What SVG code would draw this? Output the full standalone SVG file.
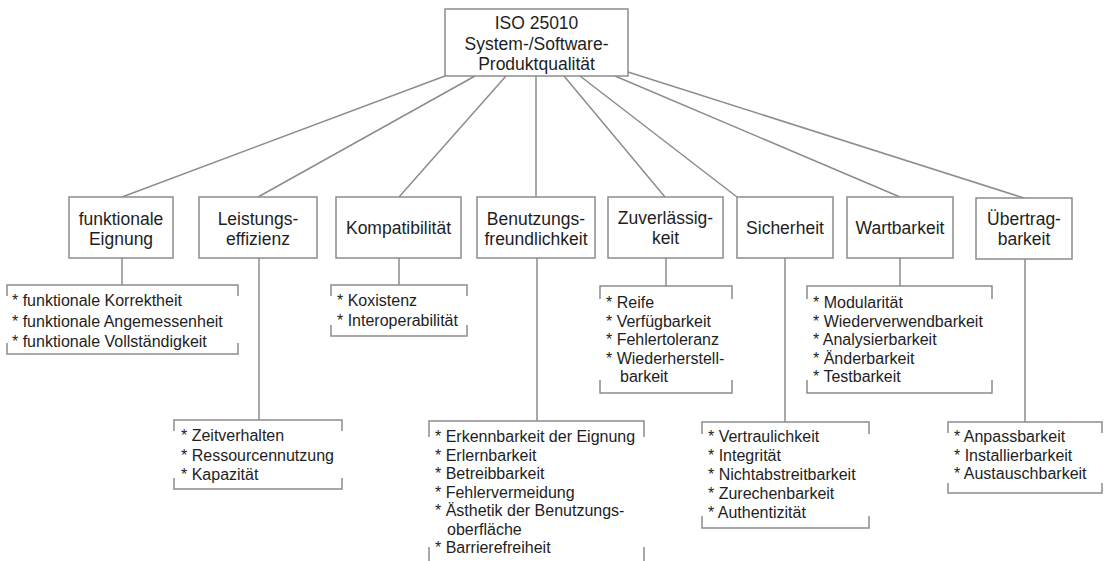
<svg xmlns="http://www.w3.org/2000/svg" width="1104" height="561" viewBox="0 0 1104 561">
<style>
.box{fill:#fff;stroke:#8c8c8c;stroke-width:1.5}
.ln{fill:none;stroke:#8c8c8c;stroke-width:1.5}
.br{fill:none;stroke:#8c8c8c;stroke-width:1.5}
.t{font-family:"Liberation Sans",Arial,sans-serif;font-size:17.5px;fill:#1e1e1e;text-anchor:middle}
.l{font-family:"Liberation Sans",Arial,sans-serif;font-size:16px;fill:#1e1e1e}
</style>
<rect width="1104" height="561" fill="#fff"/>
<g id="connectors">
<line class="ln" x1="445" y1="76" x2="122" y2="197"/>
<line class="ln" x1="475" y1="76" x2="258" y2="197"/>
<line class="ln" x1="506" y1="76" x2="399" y2="197"/>
<line class="ln" x1="536" y1="76" x2="536" y2="197"/>
<line class="ln" x1="564" y1="76" x2="665" y2="197"/>
<line class="ln" x1="580" y1="76" x2="737" y2="197"/>
<line class="ln" x1="615" y1="76" x2="900" y2="197"/>
<line class="ln" x1="628" y1="72" x2="1024" y2="198"/>
<line class="ln" x1="122" y1="258" x2="122" y2="285"/>
<line class="ln" x1="259" y1="258" x2="259" y2="420"/>
<line class="ln" x1="399" y1="258" x2="399" y2="285"/>
<line class="ln" x1="537" y1="258" x2="537" y2="421"/>
<line class="ln" x1="666" y1="258" x2="666" y2="286"/>
<line class="ln" x1="785" y1="258" x2="785" y2="422"/>
<line class="ln" x1="900" y1="258" x2="900" y2="286"/>
<line class="ln" x1="1025" y1="259" x2="1025" y2="422"/>
</g>
<g id="root">
<rect class="box" x="445" y="9" width="183" height="67"/>
<text class="t" x="536.5" y="28.5">ISO 25010</text>
<text class="t" x="536.5" y="49.5">System-/Software-</text>
<text class="t" x="536.5" y="70">Produktqualität</text>
</g>
<g id="funktionale-eignung">
<rect class="box" x="69" y="197" width="104" height="61"/>
<text class="t" x="121" y="225">funktionale</text>
<text class="t" x="121" y="245">Eignung</text>
</g>
<g id="leistungseffizienz">
<rect class="box" x="199" y="197" width="118" height="61"/>
<text class="t" x="258" y="225">Leistungs-</text>
<text class="t" x="258" y="245">effizienz</text>
</g>
<g id="kompatibilitaet">
<rect class="box" x="336" y="197" width="125" height="61"/>
<text class="t" x="398.5" y="234">Kompatibilität</text>
</g>
<g id="benutzungsfreundlichkeit">
<rect class="box" x="477" y="197" width="118" height="61"/>
<text class="t" x="536" y="225">Benutzungs-</text>
<text class="t" x="536" y="245">freundlichkeit</text>
</g>
<g id="zuverlaessigkeit">
<rect class="box" x="608" y="197" width="115" height="61"/>
<text class="t" x="665.5" y="224">Zuverlässig-</text>
<text class="t" x="665.5" y="244">keit</text>
</g>
<g id="sicherheit">
<rect class="box" x="737" y="197" width="96" height="61"/>
<text class="t" x="785" y="234">Sicherheit</text>
</g>
<g id="wartbarkeit">
<rect class="box" x="847" y="197" width="106" height="61"/>
<text class="t" x="900" y="234">Wartbarkeit</text>
</g>
<g id="uebertragbarkeit">
<rect class="box" x="976" y="198" width="96" height="61"/>
<text class="t" x="1024" y="225">Übertrag-</text>
<text class="t" x="1024" y="245">barkeit</text>
</g>
<g id="list-funktionale-eignung">
<path class="br" d="M7,296V285H238V296M7,343V354H238V343"/>
<text class="l" x="12" y="306">* funktionale Korrektheit</text>
<text class="l" x="12" y="326.5">* funktionale Angemessenheit</text>
<text class="l" x="12" y="347">* funktionale Vollständigkeit</text>
</g>
<g id="list-leistungseffizienz">
<path class="br" d="M174,431V420H342V431M174,478V489H342V478"/>
<text class="l" x="181" y="441">* Zeitverhalten</text>
<text class="l" x="181" y="460.5">* Ressourcennutzung</text>
<text class="l" x="181" y="480">* Kapazität</text>
</g>
<g id="list-kompatibilitaet">
<path class="br" d="M331,296V285H467V296M331,325V336H467V325"/>
<text class="l" x="337" y="306">* Koxistenz</text>
<text class="l" x="337" y="325.5">* Interoperabilität</text>
</g>
<g id="list-benutzungsfreundlichkeit">
<path class="br" d="M429,437V421H644V437M429,547V562M644,547V562"/>
<text class="l" x="435" y="442">* Erkennbarkeit der Eignung</text>
<text class="l" x="435" y="460.5">* Erlernbarkeit</text>
<text class="l" x="435" y="479">* Betreibbarkeit</text>
<text class="l" x="435" y="497.5">* Fehlervermeidung</text>
<text class="l" x="435" y="516">* Ästhetik der Benutzungs-</text>
<text class="l" x="447" y="534.5">oberfläche</text>
<text class="l" x="435" y="553">* Barrierefreiheit</text>
</g>
<g id="list-zuverlaessigkeit">
<path class="br" d="M600,299V286H732V299M600,380V393H732V380"/>
<text class="l" x="606" y="308">* Reife</text>
<text class="l" x="606" y="326.5">* Verfügbarkeit</text>
<text class="l" x="606" y="345">* Fehlertoleranz</text>
<text class="l" x="606" y="363.5">* Wiederherstell-</text>
<text class="l" x="620" y="382">barkeit</text>
</g>
<g id="list-sicherheit">
<path class="br" d="M702,434V422H869V434M702,516V528H869V516"/>
<text class="l" x="708" y="442">* Vertraulichkeit</text>
<text class="l" x="708" y="461">* Integrität</text>
<text class="l" x="708" y="480">* Nichtabstreitbarkeit</text>
<text class="l" x="708" y="499">* Zurechenbarkeit</text>
<text class="l" x="708" y="518">* Authentizität</text>
</g>
<g id="list-wartbarkeit">
<path class="br" d="M807,299V286H992V299M807,380V393H992V380"/>
<text class="l" x="813" y="308">* Modularität</text>
<text class="l" x="813" y="326.5">* Wiederverwendbarkeit</text>
<text class="l" x="813" y="345">* Analysierbarkeit</text>
<text class="l" x="813" y="363.5">* Änderbarkeit</text>
<text class="l" x="813" y="382">* Testbarkeit</text>
</g>
<g id="list-uebertragbarkeit">
<path class="br" d="M948,433V422H1102V433M948,483V493H1102V483"/>
<text class="l" x="954" y="442">* Anpassbarkeit</text>
<text class="l" x="954" y="460.5">* Installierbarkeit</text>
<text class="l" x="954" y="479">* Austauschbarkeit</text>
</g>
</svg>
